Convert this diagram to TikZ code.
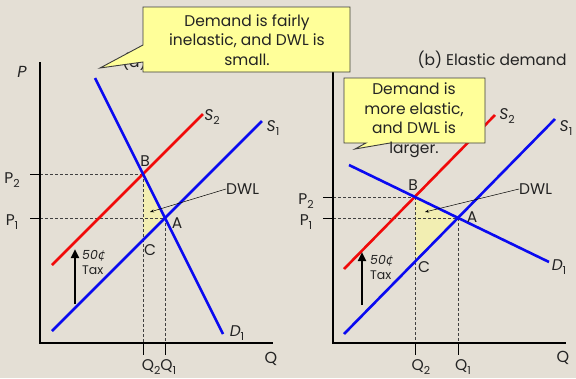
\documentclass[tikz,border=0pt]{standalone}
\usepackage{fontspec}
\setmainfont{Poppins}
\newfontfamily\centfont{DejaVu Sans}
\usetikzlibrary{arrows.meta}
\definecolor{bgc}{RGB}{228,223,213}
\definecolor{callfill}{RGB}{255,255,153}
\definecolor{callline}{RGB}{60,60,60}
\definecolor{dwlfill}{RGB}{242,238,178}
\definecolor{txt}{RGB}{35,35,35}
\definecolor{curveblue}{RGB}{10,10,240}
\definecolor{curvered}{RGB}{240,10,10}
\newcommand\sbs[1]{\raisebox{-0.3em}{\fontsize{11}{11}\selectfont\upshape #1}}
\begin{document}
\begin{tikzpicture}[x=1pt,y=-1pt,
  axis/.style={line width=2.2pt,black},
  bluecurve/.style={line width=2.6pt,curveblue},
  redcurve/.style={line width=2.6pt,curvered},
  guide/.style={densely dashed,line width=0.6pt,black!75},
  tickmark/.style={line width=1pt,black},
  lbl/.style={inner sep=0pt,text=txt,font=\fontsize{15.5}{17}\selectfont},
  smalllbl/.style={inner sep=0pt,text=txt,font=\fontsize{12.5}{14}\selectfont,align=left},
  calloutbox/.style={fill=callfill,draw=callline,line width=0.9pt,line join=miter},
  callouttext/.style={inner sep=0pt,text=txt,align=center,font=\fontsize{15.5}{19.5}\selectfont},
  taxarrow/.style={line width=2.6pt,-{Triangle[length=9pt,width=8pt]}},
  dwlarrow/.style={line width=0.5pt,-{Stealth[length=4pt,width=3pt]}}
]
\fill[bgc] (0,0) rectangle (576,378);
\useasboundingbox (0,0) rectangle (576,378);

% ---------- titles / labels partly hidden behind the first callout ----------
\node[lbl,anchor=west] (titleA) at (122,62) {(a) Inelastic demand};
\node[lbl,anchor=center,font=\fontsize{16}{17}\selectfont\itshape] (PR) at (314,66) {P};
\node[lbl,anchor=center] (titleB) at (492,60) {(b) Elastic demand};

% ================= LEFT PANEL =================
\coordinate (LTop) at (40,62);
\coordinate (LO) at (40,343);
\coordinate (LEnd) at (273,343);
\coordinate (LB) at (143,174);
\coordinate (LA) at (165,218);
\coordinate (LC) at (143,240);
\coordinate (LP2t) at (30,174);
\coordinate (LP1t) at (30,218);
\coordinate (LP2a) at (40,174);
\coordinate (LP1a) at (40,218);
\coordinate (LQ2b) at (143,343);
\coordinate (LQ1b) at (165,343);
\coordinate (LQ2t) at (143,355);
\coordinate (LQ1t) at (165,355);

\fill[dwlfill] (LB) -- (LA) -- (LC) -- cycle;
\draw[guide] (LP2a) -- (LB);
\draw[guide] (LP1a) -- (LA);
\draw[guide] (LB) -- (LQ2b);
\draw[guide] (LA) -- (LQ1b);
\draw[tickmark] (LP2t) -- (LP2a);
\draw[tickmark] (LP1t) -- (LP1a);
\draw[tickmark] (LQ2b) -- (LQ2t);
\draw[tickmark] (LQ1b) -- (LQ1t);

\coordinate (LD1s) at (95,78);
\coordinate (LD1e) at (223,334);
\coordinate (LS1s) at (52,331);
\coordinate (LS1e) at (262,121);
\coordinate (LS2s) at (52,265);
\coordinate (LS2e) at (203,114);
\draw[redcurve] (LS2s) -- (LS2e);
\draw[bluecurve] (LS1s) -- (LS1e);
\draw[bluecurve] (LD1s) -- (LD1e);
\draw[axis] (LTop) -- (LO) -- (LEnd);

\node[lbl,font=\fontsize{16}{17}\selectfont\itshape] (LPl) at (22,72) {P};
\node[lbl,font=\fontsize{16}{17}\selectfont] (LQl) at (271,359) {Q};
\node[lbl] (LP2l) at (12,180) {P\sbs{2}};
\node[lbl] (LP1l) at (12,222) {P\sbs{1}};
\node[lbl] (LQ2l) at (159,367) {Q\sbs{2}Q\sbs{1}};
\node[lbl] (LBl) at (145,161) {B};
\node[lbl] (LAl) at (177,223) {A};
\node[lbl] (LCl) at (150,250) {C};
\node[lbl] (LS2l) at (212,117) {\itshape S\sbs{2}};
\node[lbl] (LS1l) at (273,128) {\itshape S\sbs{1}};
\node[lbl] (LD1l) at (237,333) {\itshape D\sbs{1}};
\node[lbl,anchor=west] (LDWL) at (226,189) {DWL};
\coordinate (LDWLtip) at (150,212);
\draw[dwlarrow] (LDWL.west) -- (LDWLtip);
\coordinate (LTaxB) at (75,304);
\coordinate (LTaxT) at (75,249);
\draw[taxarrow] (LTaxB) -- (LTaxT);
\node[smalllbl,anchor=north west] (LTax) at (82,250) {\itshape 50{\centfont\itshape ¢}\\[1pt]Tax};

% ================= RIGHT PANEL =================
\coordinate (RTop) at (333,62);
\coordinate (RO) at (333,343);
\coordinate (REnd) at (566,343);
\coordinate (RB) at (415,197);
\coordinate (RA) at (458,218);
\coordinate (RC) at (415,262);
\coordinate (RP2t) at (323,197);
\coordinate (RP1t) at (323,218);
\coordinate (RP2a) at (333,197);
\coordinate (RP1a) at (333,218);
\coordinate (RQ2b) at (415,343);
\coordinate (RQ1b) at (458,343);
\coordinate (RQ2t) at (415,355);
\coordinate (RQ1t) at (458,355);

\fill[dwlfill] (RB) -- (RA) -- (RC) -- cycle;
\draw[guide] (RP2a) -- (RB);
\draw[guide] (RP1a) -- (RA);
\draw[guide] (RB) -- (RQ2b);
\draw[guide] (RA) -- (RQ1b);
\draw[tickmark] (RP2t) -- (RP2a);
\draw[tickmark] (RP1t) -- (RP1a);
\draw[tickmark] (RQ2b) -- (RQ2t);
\draw[tickmark] (RQ1b) -- (RQ1t);

\coordinate (RD1s) at (349,165);
\coordinate (RD1e) at (549,262);
\coordinate (RS1s) at (344,334);
\coordinate (RS1e) at (555,119);
\coordinate (RS2s) at (344,269);
\coordinate (RS2e) at (495,115);
\draw[redcurve] (RS2s) -- (RS2e);
\draw[bluecurve] (RS1s) -- (RS1e);
\draw[bluecurve] (RD1s) -- (RD1e);
\draw[axis] (RTop) -- (RO) -- (REnd);

\node[lbl,font=\fontsize{16}{17}\selectfont] (RQl) at (563,358) {Q};
\node[lbl] (RP2l) at (306,201) {P\sbs{2}};
\node[lbl] (RP1l) at (306,222) {P\sbs{1}};
\node[lbl] (RQ2l) at (421,367) {Q\sbs{2}};
\node[lbl] (RQ1l) at (463,367) {Q\sbs{1}};
\node[lbl] (RBl) at (413,185) {B};
\node[lbl] (RAl) at (472,217) {A};
\node[lbl] (RCl) at (424,267) {C};
\node[lbl] (RS2l) at (507,116) {\itshape S\sbs{2}};
\node[lbl] (RS1l) at (566,128) {\itshape S\sbs{1}};
\node[lbl] (RD1l) at (559,267) {\itshape D\sbs{1}};
\node[lbl,anchor=west] (RDWL) at (519,189) {DWL};
\coordinate (RDWLtip) at (425,212);
\draw[dwlarrow] (RDWL.west) -- (RDWLtip);
\coordinate (RTaxB) at (362,305);
\coordinate (RTaxT) at (362,252);
\draw[taxarrow] (RTaxB) -- (RTaxT);
\node[smalllbl,anchor=north west] (RTax) at (370,255) {\itshape 50{\centfont\itshape ¢}\\[1pt]Tax};

% ================= CALLOUTS =================
\draw[calloutbox] (143,7) -- (350,7) -- (350,72) -- (143,72) -- (143,62) -- (100,68) -- (143,45) -- cycle;
\node[callouttext] (call1) at (247,40) {Demand is fairly\\inelastic, and DWL is\\small.};

\draw[calloutbox] (344,78) -- (485,78) -- (485,143) -- (390,143) -- (355,149) -- (366,143) -- (344,143) -- cycle;
\node[callouttext,anchor=north] (call2) at (414,83) {Demand is\\more elastic,\\and DWL is\\larger.};
\end{tikzpicture}
\end{document}
